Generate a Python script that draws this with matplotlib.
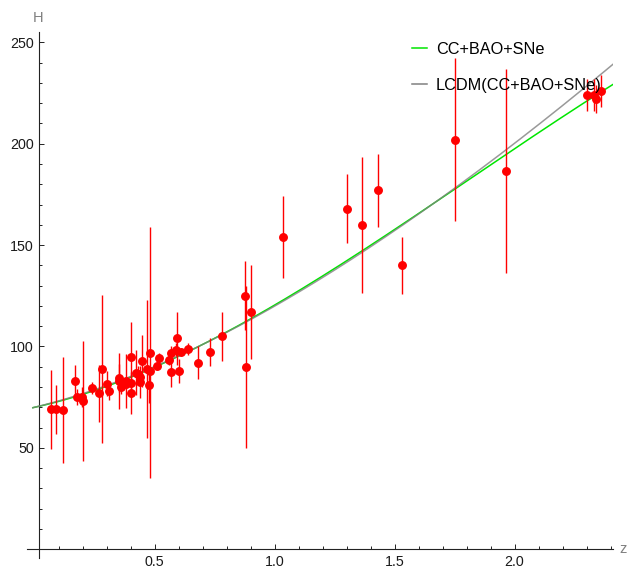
import numpy as np
import matplotlib
matplotlib.use("Agg")
import matplotlib.pyplot as plt
from matplotlib.lines import Line2D
from matplotlib.ticker import FixedLocator, FixedFormatter

plt.rcParams["font.family"] = ["Liberation Sans", "DejaVu Sans"]

# Cosmic-chronometer measurements: redshift, H(z), 1-sigma error
z_cc = [0.07, 0.09, 0.12, 0.17, 0.179, 0.199, 0.2, 0.27, 0.28, 0.352,
        0.3802, 0.4, 0.4004, 0.4247, 0.4497, 0.47, 0.4783, 0.48, 0.593, 0.68,
        0.781, 0.875, 0.88, 0.9, 1.037, 1.3, 1.363, 1.43, 1.53, 1.75, 1.965]
H_cc = [69, 69, 68.6, 83, 75, 75, 72.9, 77, 88.8, 83,
        83, 95, 77, 87.1, 92.8, 89, 80.9, 97, 104, 92,
        105, 125, 90, 117, 154, 168, 160, 177, 140, 202, 186.5]
s_cc = [19.6, 12, 26.2, 8, 4, 5, 29.6, 14, 36.6, 14,
        13.5, 17, 10.2, 11.2, 12.9, 34, 9, 62, 13, 8,
        12, 17, 40, 23, 20, 17, 33.6, 18, 14, 40, 50.4]

# BAO measurements
z_bao = [0.24, 0.3, 0.31, 0.35, 0.36, 0.38, 0.40, 0.43, 0.44, 0.44,
         0.48, 0.51, 0.52, 0.56, 0.57, 0.57, 0.59, 0.6, 0.61, 0.64,
         0.73, 2.30, 2.33, 2.34, 2.36]
H_bao = [79.69, 81.7, 78.17, 84.4, 79.93, 81.5, 82.04, 86.45, 82.6, 84.81,
         87.79, 90.4, 94.35, 93.34, 96.8, 87.6, 98.48, 87.9, 97.3, 98.82,
         97.3, 224, 224, 222, 226]
s_bao = [2.99, 6.22, 4.74, 7, 3.39, 1.9, 2.03, 3.68, 7.8, 1.83,
         2.03, 1.9, 2.64, 2.3, 3.4, 7.8, 3.18, 6.1, 2.1, 2.98,
         7.0, 8, 8, 7, 8]

# Best-fit reconstruction (CC+BAO+SNe), cubic in z
fit_coeffs = [70.0, 26.06, 29.8, -5.48]
# Flat LCDM best fit
lcdm_H0 = 70.0
lcdm_Om = 0.276

labels = ["CC+BAO+SNe", "LCDM(CC+BAO+SNe)"]

W, Hpx = 629, 571
fig = plt.figure(figsize=(W / 100, Hpx / 100), dpi=100)
ax = fig.add_axes([27 / W, (Hpx - 558) / Hpx, (613 - 27) / W, (558 - 31.7) / Hpx])

zz = np.linspace(-0.01, 2.42, 400)
H_fit = np.polyval(fit_coeffs[::-1], zz)
H_lcdm = lcdm_H0 * np.sqrt(lcdm_Om * (1 + zz) ** 3 + 1 - lcdm_Om)

ax.plot(zz, H_fit, color="#00e600", lw=1.1, zorder=2, solid_capstyle="butt")
ax.plot(zz, H_lcdm, color="#808080", lw=1.1, alpha=0.8, zorder=3, solid_capstyle="butt")

z_all = np.array(z_cc + z_bao)
H_all = np.array(H_cc + H_bao)
s_all = np.array(s_cc + s_bao)
ax.errorbar(z_all, H_all, yerr=s_all, fmt="o", color="red", ms=5.4,
            mec="red", ecolor="red", elinewidth=1.0, capsize=0, zorder=4)

ax.set_xlim(-0.03125, 2.4104)
ax.set_ylim(-4.29, 255.2)

for side in ("top", "right"):
    ax.spines[side].set_visible(False)
ax.spines["left"].set_position(("data", 0.02))
ax.spines["bottom"].set_position(("data", 0))
for side in ("left", "bottom"):
    ax.spines[side].set_color("#222222")
    ax.spines[side].set_linewidth(0.8)

xmaj = [0.5, 1.0, 1.5, 2.0]
xmin_t = [round(0.1 * i, 1) for i in range(0, 25) if i % 5 != 0]
ymaj = [50, 100, 150, 200, 250]
ymin_t = [v for v in range(10, 250, 10) if v % 50 != 0]

ax.xaxis.set_major_locator(FixedLocator(xmaj))
ax.xaxis.set_major_formatter(FixedFormatter(["0.5", "1.0", "1.5", "2.0"]))
ax.xaxis.set_minor_locator(FixedLocator(xmin_t))
ax.yaxis.set_major_locator(FixedLocator(ymaj))
ax.yaxis.set_major_formatter(FixedFormatter([str(v) for v in ymaj]))
ax.yaxis.set_minor_locator(FixedLocator(ymin_t))

ax.tick_params(which="both", direction="in", color="#222222", width=0.7,
               labelsize=10.3, labelcolor="#1a1a1a")
ax.tick_params(which="major", length=3.4)
ax.tick_params(which="minor", length=2.0)
ax.tick_params(axis="x", pad=4)
ax.tick_params(axis="y", pad=4)

fig.text(38 / W, 1 - 18 / Hpx, "H", color="#808080", fontsize=10.5,
         ha="center", va="center")
fig.text(623 / W, 1 - 549 / Hpx, "z", color="#808080", fontsize=10.5,
         ha="center", va="center")

handles = [Line2D([], [], color="#00e600", lw=1.1),
           Line2D([], [], color="#808080", lw=1.1)]
ax.legend(handles, labels, loc="upper left",
          bbox_to_anchor=(412 / W, 1 - 42 / Hpx), bbox_transform=fig.transFigure,
          frameon=False, fontsize=11.7, handlelength=0.92, handletextpad=0.55,
          labelspacing=1.3, borderpad=0, borderaxespad=0)

fig.savefig("out.png", dpi=100)
